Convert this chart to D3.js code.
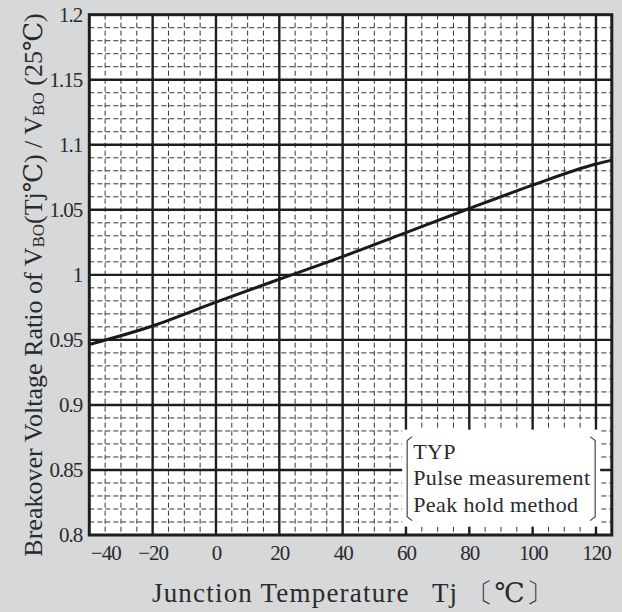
<!DOCTYPE html>
<html>
<head>
<meta charset="utf-8">
<script src="https://cdn.jsdelivr.net/npm/d3@7"></script>
<style>
  body { margin: 0; background: #d6d8da; }
  svg { display: block; }
  text { font-family: "Liberation Serif", "DejaVu Serif", serif; fill: #2a2a2a; }
</style>
</head>
<body>
<div class="chart"></div>
<script>
// Curve
let tempValues = [-40, -20, 0, 20, 40, 60, 80, 100, 120, 125];
let ratioValues = [0.9465, 0.9607, 0.979, 0.9966, 1.014, 1.0325, 1.051, 1.069, 1.0852, 1.0882];

// Tick labels
let xTicks = [-40, -20, 0, 20, 40, 60, 80, 100, 120];
let yTicks = [0.8, 0.85, 0.9, 0.95, 1, 1.05, 1.1, 1.15, 1.2];
let legendLines = ["TYP", "Pulse measurement", "Peak hold method"];

// Set the dimensions and margins
let svgWidth = 622;
let svgHeight = 612;
let margin = {top: 14.7, right: 10.2, bottom: 77, left: 89.3};
let width = svgWidth - margin.left - margin.right;
let height = svgHeight - margin.top - margin.bottom;

let svg = d3.select(".chart").append("svg").attr("width", svgWidth).attr("height", svgHeight);

let chartGroup = svg.append("g")
  .attr("transform", `translate(${margin.left}, ${margin.top})`);

// Scales
let xScale = d3.scaleLinear().domain([-40, 125]).range([0, width]);
let yScale = d3.scaleLinear().domain([0.8, 1.2]).range([height, 0]);

// Plot background
chartGroup.append("rect")
  .attr("width", width)
  .attr("height", height)
  .attr("fill", "white");

// Minor dashed grid (every 5 degC and 0.01)
let xMinor = d3.range(-35, 125, 5).filter(d => d % 20 !== 0);
let yMinor = d3.range(0.81, 1.2, 0.01).filter(d => Math.abs(d * 20 - Math.round(d * 20)) > 0.01);

chartGroup.selectAll(".x-minor")
  .data(xMinor)
  .enter()
  .append("line")
  .attr("class", "x-minor")
  .attr("x1", d => xScale(d)).attr("x2", d => xScale(d))
  .attr("y1", 0).attr("y2", height)
  .attr("stroke", "#333")
  .attr("stroke-width", 1)
  .attr("stroke-dasharray", "5,3");

chartGroup.selectAll(".y-minor")
  .data(yMinor)
  .enter()
  .append("line")
  .attr("class", "y-minor")
  .attr("x1", 0).attr("x2", width)
  .attr("y1", d => yScale(d)).attr("y2", d => yScale(d))
  .attr("stroke", "#333")
  .attr("stroke-width", 1)
  .attr("stroke-dasharray", "5,3");

// Major solid grid
chartGroup.selectAll(".x-major")
  .data(xTicks.slice(1))
  .enter()
  .append("line")
  .attr("class", "x-major")
  .attr("x1", d => xScale(d)).attr("x2", d => xScale(d))
  .attr("y1", 0).attr("y2", height)
  .attr("stroke", "#1e1e1e")
  .attr("stroke-width", 2.4);

chartGroup.selectAll(".y-major")
  .data(yTicks.slice(1, -1))
  .enter()
  .append("line")
  .attr("class", "y-major")
  .attr("x1", 0).attr("x2", width)
  .attr("y1", d => yScale(d)).attr("y2", d => yScale(d))
  .attr("stroke", "#1e1e1e")
  .attr("stroke-width", 2.4);

// The curve
let line = d3.line()
  .x(d => xScale(d[0]))
  .y(d => yScale(d[1]))
  .curve(d3.curveMonotoneX);

chartGroup.append("path")
  .datum(tempValues.map((t, i) => [t, ratioValues[i]]))
  .attr("d", line)
  .attr("fill", "none")
  .attr("stroke", "#1a1a1a")
  .attr("stroke-width", 3);

// Legend box covering the grid
let legendGroup = chartGroup.append("g")
  .attr("transform", `translate(${xScale(58.8)}, ${yScale(0.881)})`);

legendGroup.append("rect")
  .attr("width", 198)
  .attr("height", 97)
  .attr("fill", "white");

legendGroup.append("path")
  .attr("d", "M10,7 L5,11 L5,87 L10,91")
  .attr("fill", "none")
  .attr("stroke", "#444")
  .attr("stroke-width", 1.2);

legendGroup.append("path")
  .attr("d", "M188,7 L193,11 L193,87 L188,91")
  .attr("fill", "none")
  .attr("stroke", "#444")
  .attr("stroke-width", 1.2);

legendGroup.selectAll(".legend-text")
  .data(legendLines)
  .enter()
  .append("text")
  .attr("class", "legend-text")
  .attr("x", 11)
  .attr("y", (d, i) => 29 + i * 26.5)
  .style("font-size", "22px")
  .style("letter-spacing", "0.4px")
  .text(d => d);

// Frame
chartGroup.append("rect")
  .attr("width", width)
  .attr("height", height)
  .attr("fill", "none")
  .attr("stroke", "#1e1e1e")
  .attr("stroke-width", 3);

// Axes (labels only, the grid draws the lines)
let bottomAxis = d3.axisBottom(xScale).tickValues(xTicks).tickSize(0).tickPadding(10)
  .tickFormat(d => d < 0 ? "\u2212" + Math.abs(d) : d);
let leftAxis = d3.axisLeft(yScale).tickValues(yTicks).tickSize(0).tickPadding(7)
  .tickFormat(d => d3.format("")(d));

let xAxisGroup = chartGroup.append("g")
  .attr("class", "x-axis")
  .attr("transform", `translate(0, ${height})`)
  .call(bottomAxis);

let yAxisGroup = chartGroup.append("g")
  .attr("class", "y-axis")
  .call(leftAxis);

chartGroup.selectAll(".domain").remove();
chartGroup.selectAll(".tick text")
  .style("font-family", "'Liberation Serif', serif")
  .style("font-size", "21px")
  .style("letter-spacing", "-1px")
  .attr("fill", "#2a2a2a");

// -40 label sits inside the plot edge
xAxisGroup.selectAll(".tick text")
  .filter(d => d === -40)
  .attr("text-anchor", "start")
  .attr("dx", 1);

// X axis title
svg.append("text")
  .attr("x", 353)
  .attr("y", 602)
  .attr("text-anchor", "middle")
  .style("font-size", "27px")
  .style("letter-spacing", "1.2px")
  .text("Junction Temperature\u2002 Tj \u3014\u2103\u3015");

// Y axis title with subscripts
let yTitle = svg.append("text")
  .attr("transform", "translate(42, 285) rotate(-90)")
  .attr("text-anchor", "middle")
  .style("font-size", "26px");

yTitle.append("tspan").text("Breakover Voltage Ratio of V");
yTitle.append("tspan").text("BO").style("font-size", "17px").attr("dy", 2);
yTitle.append("tspan").text("(Tj\u2103) / V").attr("dy", -2);
yTitle.append("tspan").text("BO").style("font-size", "17px").attr("dy", 2);
yTitle.append("tspan").text(" (25\u2103)").attr("dy", -2);
</script>
</body>
</html>
